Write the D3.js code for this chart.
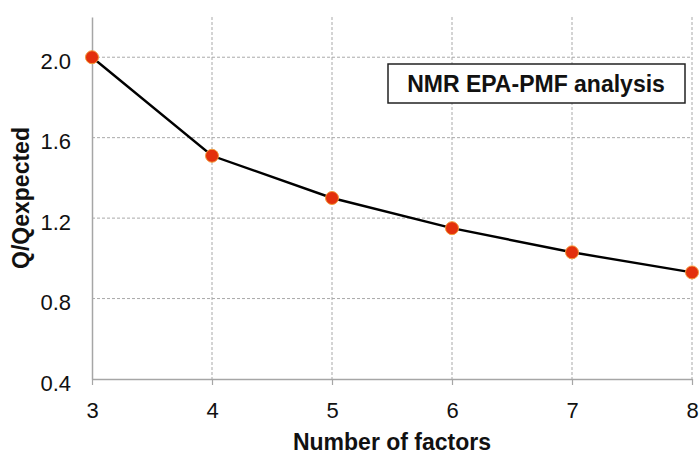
<!DOCTYPE html>
<html>
<head>
<meta charset="utf-8">
<script src="https://cdn.jsdelivr.net/npm/d3@7"></script>
<style>
  body { margin: 0; background: #fff; }
  svg { font-family: "Liberation Sans", Arial, sans-serif; }
</style>
</head>
<body>
<div id="chart"></div>
<script>
const factors = [3, 4, 5, 6, 7, 8];
const qRatio = [2.0, 1.51, 1.30, 1.15, 1.03, 0.93];
const yTicks = [0.4, 0.8, 1.2, 1.6, 2.0];
const xLabel = "Number of factors";
const yLabel = "Q/Qexpected";
const boxLabel = "NMR EPA-PMF analysis";

const width = 700, height = 454;
const margin = { top: 17, right: 8, bottom: 75, left: 92 };

const svg = d3.select("#chart").append("svg")
    .attr("width", width).attr("height", height);

const x = d3.scaleLinear().domain([3, 8]).range([margin.left, width - margin.right]);
const y = d3.scaleLinear().domain([0.4, 2.2]).range([379, margin.top]);

const gridColor = "#a9a9a9";
const axisColor = "#a6a6a6";

// horizontal grid
svg.append("g").selectAll("line")
    .data(yTicks.filter(d => d > 0.4))
    .join("line")
    .attr("x1", x(3)).attr("x2", x(8))
    .attr("y1", d => y(d)).attr("y2", d => y(d))
    .attr("stroke", gridColor).attr("stroke-width", 1)
    .attr("stroke-dasharray", "3,2");

// vertical grid
svg.append("g").selectAll("line")
    .data(factors.filter(d => d > 3))
    .join("line")
    .attr("x1", d => x(d)).attr("x2", d => x(d))
    .attr("y1", y(2.2)).attr("y2", y(0.4))
    .attr("stroke", gridColor).attr("stroke-width", 1)
    .attr("stroke-dasharray", "3,2");

// axes
const xAxis = svg.append("g")
    .attr("transform", `translate(0,${y(0.4)})`)
    .call(d3.axisBottom(x).tickValues(factors).tickFormat(d3.format("d")).tickSize(6).tickSizeOuter(0));
const yAxis = svg.append("g")
    .attr("transform", `translate(${x(3)},0)`)
    .call(d3.axisLeft(y).tickValues(yTicks).tickFormat(d3.format(".1f")).tickSize(0).tickSizeOuter(0));

[xAxis, yAxis].forEach(a => {
    a.attr("font-size", null).attr("font-family", null);
    a.select(".domain").attr("stroke", axisColor).attr("stroke-width", 1.5);
    a.selectAll(".tick line").attr("stroke", axisColor).attr("stroke-width", 1.2);
    a.selectAll(".tick text").attr("fill", "#111").style("font-size", "22px");
});
xAxis.selectAll(".tick text").attr("y", 39).attr("dy", null);
yAxis.selectAll(".tick text").attr("x", -21).attr("dy", "0.5em");

// line
svg.append("path")
    .datum(factors.map((f, i) => [f, qRatio[i]]))
    .attr("fill", "none")
    .attr("stroke", "#000")
    .attr("stroke-width", 2.4)
    .attr("d", d3.line().x(d => x(d[0])).y(d => y(d[1])));

// points
svg.append("g").selectAll("circle")
    .data(factors.map((f, i) => [f, qRatio[i]]))
    .join("circle")
    .attr("cx", d => x(d[0])).attr("cy", d => y(d[1]))
    .attr("r", 6.5)
    .attr("fill", "#e3300c")
    .attr("stroke", "#f39a3a").attr("stroke-width", 1);

// label box
const box = svg.append("g");
box.append("rect")
    .attr("x", 388).attr("y", 64).attr("width", 297).attr("height", 39)
    .attr("fill", "#fff").attr("stroke", "#222").attr("stroke-width", 1.5);
box.append("text")
    .attr("x", 536).attr("y", 92)
    .attr("text-anchor", "middle")
    .style("font-size", "23px").attr("font-weight", "bold").attr("fill", "#111")
    .text(boxLabel);

// axis titles
svg.append("text")
    .attr("x", x(5.5)).attr("y", 450)
    .attr("text-anchor", "middle")
    .style("font-size", "23px").attr("font-weight", "bold").attr("fill", "#111")
    .text(xLabel);
svg.append("text")
    .attr("transform", `translate(29,198) rotate(-90)`)
    .attr("text-anchor", "middle")
    .style("font-size", "23px").attr("font-weight", "bold").attr("fill", "#111")
    .text(yLabel);
</script>
</body>
</html>
